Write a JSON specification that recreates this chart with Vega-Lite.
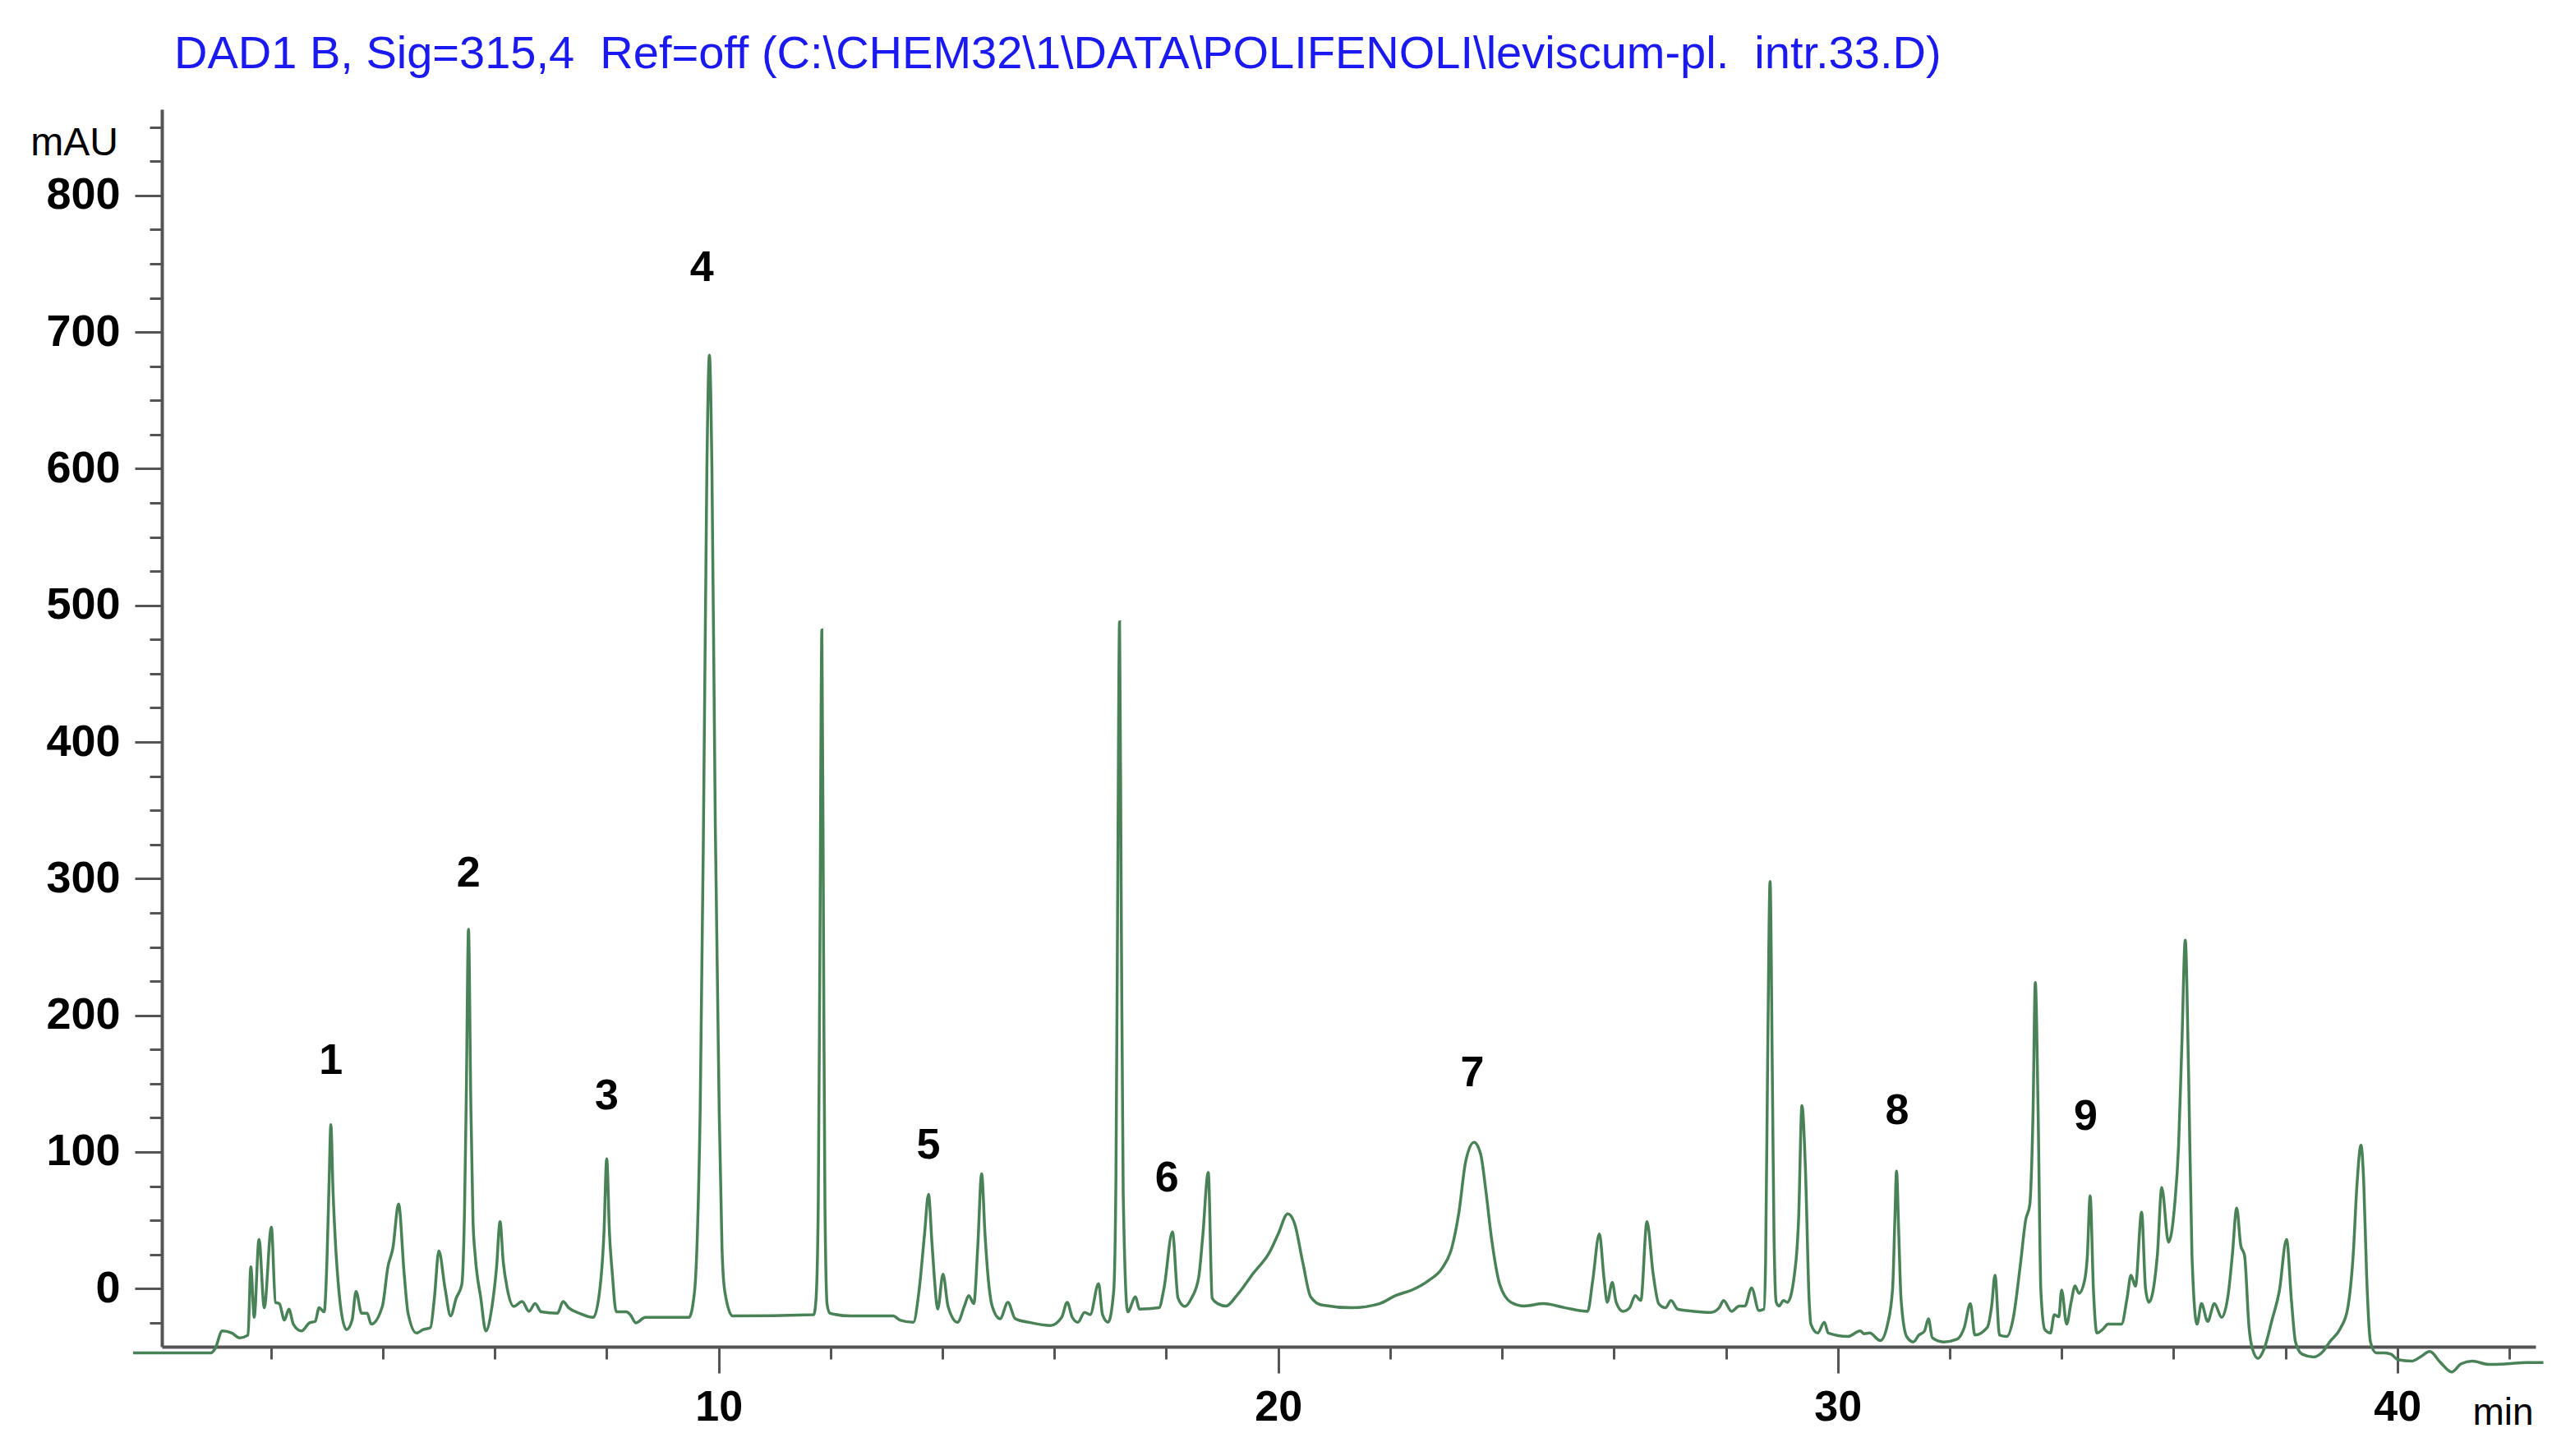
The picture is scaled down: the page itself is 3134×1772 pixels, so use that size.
{
  "$schema": "https://vega.github.io/schema/vega-lite/v6.json",
  "autosize": "none",
  "width": 2889,
  "height": 1506,
  "padding": {"left": 197, "top": 133, "right": 48, "bottom": 133},
  "background": "white",
  "title": {
    "text": "DAD1 B, Sig=315,4\u00a0 Ref=off (C:\\CHEM32\\1\\DATA\\POLIFENOLI\\leviscum-pl.\u00a0 intr.33.D)",
    "anchor": "start", "frame": "group", "orient": "top",
    "fontSize": 56, "font": "Liberation Sans", "fontWeight": "normal",
    "color": "#1a1af0", "baseline": "alphabetic", "offset": 46, "dx": 15, "dy": 52
  },
  "config": {"view": {"stroke": null}, "font": "Liberation Sans"},
  "datasets": {
    "trace": [
      {"t":-0.465,"v":-47},{"t":0.93,"v":-47},{"t":1.0,"v":-44},{"t":1.13,"v":-31},{"t":1.30,"v":-32.5},{"t":1.44,"v":-36},{"t":1.59,"v":-34},{"t":1.64,"v":16},{"t":1.70,"v":-21},{"t":1.786,"v":36},{"t":1.88,"v":-14},{"t":2.007,"v":45},{"t":2.08,"v":-10},{"t":2.15,"v":-11},{"t":2.24,"v":-23},{"t":2.32,"v":-15},{"t":2.40,"v":-26},{"t":2.545,"v":-31},{"t":2.69,"v":-25},{"t":2.79,"v":-24},{"t":2.86,"v":-14},{"t":2.95,"v":-17},{"t":3.00,"v":20},{"t":3.04,"v":80},{"t":3.07,"v":120},{"t":3.11,"v":70},{"t":3.15,"v":35},{"t":3.20,"v":5},{"t":3.25,"v":-15},{"t":3.35,"v":-30},{"t":3.45,"v":-23},{"t":3.52,"v":-2},{"t":3.62,"v":-18},{"t":3.72,"v":-18},{"t":3.79,"v":-26},{"t":3.99,"v":-13},{"t":4.09,"v":16},{"t":4.18,"v":30},{"t":4.28,"v":62},{"t":4.38,"v":11},{"t":4.45,"v":-18},{"t":4.60,"v":-32.5},{"t":4.72,"v":-30},{"t":4.85,"v":-28.5},{"t":4.92,"v":-7},{"t":5.00,"v":27.5},{"t":5.11,"v":0.5},{"t":5.21,"v":-20},{"t":5.31,"v":-7},{"t":5.41,"v":3},{"t":5.46,"v":60},{"t":5.49,"v":140},{"t":5.53,"v":263},{"t":5.57,"v":140},{"t":5.61,"v":50},{"t":5.65,"v":24},{"t":5.75,"v":-7},{"t":5.84,"v":-31},{"t":5.95,"v":-13},{"t":6.03,"v":15},{"t":6.094,"v":49},{"t":6.15,"v":20},{"t":6.22,"v":0.5},{"t":6.34,"v":-13},{"t":6.49,"v":-9.5},{"t":6.61,"v":-16.6},{"t":6.72,"v":-11},{"t":6.83,"v":-17},{"t":7.12,"v":-18},{"t":7.22,"v":-9.5},{"t":7.32,"v":-14},{"t":7.51,"v":-18},{"t":7.76,"v":-21},{"t":7.88,"v":0.5},{"t":7.95,"v":40},{"t":8.00,"v":95},{"t":8.05,"v":40},{"t":8.10,"v":11},{"t":8.17,"v":-17},{"t":8.35,"v":-17},{"t":8.42,"v":-19},{"t":8.52,"v":-25},{"t":8.69,"v":-21},{"t":9.47,"v":-21},{"t":9.57,"v":-2},{"t":9.62,"v":40},{"t":9.67,"v":130},{"t":9.73,"v":341},{"t":9.79,"v":600},{"t":9.835,"v":683},{"t":9.88,"v":600},{"t":9.94,"v":341},{"t":10.01,"v":130},{"t":10.06,"v":30},{"t":10.11,"v":-2},{"t":10.25,"v":-20},{"t":11.70,"v":-19},{"t":11.74,"v":-8},{"t":11.78,"v":60},{"t":11.81,"v":250},{"t":11.845,"v":482},{"t":11.875,"v":250},{"t":11.90,"v":60},{"t":11.94,"v":-12},{"t":11.99,"v":-18},{"t":12.36,"v":-20},{"t":13.12,"v":-20},{"t":13.24,"v":-23},{"t":13.48,"v":-24.6},{"t":13.58,"v":-2},{"t":13.68,"v":40},{"t":13.75,"v":69},{"t":13.81,"v":35},{"t":13.85,"v":11},{"t":13.915,"v":-15},{"t":14.01,"v":10.6},{"t":14.10,"v":-13},{"t":14.27,"v":-24.6},{"t":14.39,"v":-13},{"t":14.47,"v":-5},{"t":14.56,"v":-11},{"t":14.63,"v":30},{"t":14.70,"v":84},{"t":14.76,"v":40},{"t":14.81,"v":11},{"t":14.89,"v":-13},{"t":15.03,"v":-22},{"t":15.17,"v":-10},{"t":15.30,"v":-22},{"t":15.59,"v":-25},{"t":15.93,"v":-27},{"t":16.13,"v":-21},{"t":16.23,"v":-10},{"t":16.32,"v":-21},{"t":16.42,"v":-24.6},{"t":16.54,"v":-17.4},{"t":16.64,"v":-19},{"t":16.79,"v":3.7},{"t":16.86,"v":-19},{"t":16.96,"v":-24.6},{"t":17.06,"v":-2},{"t":17.10,"v":80},{"t":17.13,"v":280},{"t":17.165,"v":488},{"t":17.195,"v":280},{"t":17.23,"v":70},{"t":17.31,"v":-17},{"t":17.45,"v":-6},{"t":17.52,"v":-15},{"t":17.87,"v":-14},{"t":17.96,"v":0.5},{"t":18.11,"v":41.5},{"t":18.21,"v":-7},{"t":18.33,"v":-13},{"t":18.45,"v":-7},{"t":18.58,"v":8.5},{"t":18.65,"v":37.5},{"t":18.75,"v":85},{"t":18.82,"v":-7},{"t":18.92,"v":-11},{"t":19.07,"v":-12.7},{"t":19.26,"v":-5},{"t":19.55,"v":11},{"t":19.85,"v":27},{"t":20.0,"v":40},{"t":20.17,"v":54.7},{"t":20.29,"v":48},{"t":20.44,"v":19},{"t":20.58,"v":-6},{"t":20.78,"v":-12},{"t":21.32,"v":-14},{"t":21.81,"v":-11},{"t":22.10,"v":-5},{"t":22.39,"v":-1},{"t":22.69,"v":6},{"t":22.93,"v":15},{"t":23.10,"v":29.6},{"t":23.23,"v":56},{"t":23.35,"v":93},{"t":23.50,"v":107},{"t":23.62,"v":98},{"t":23.71,"v":72},{"t":23.81,"v":37.5},{"t":23.96,"v":3},{"t":24.16,"v":-10},{"t":24.40,"v":-12.7},{"t":24.74,"v":-11},{"t":25.13,"v":-14},{"t":25.53,"v":-16.6},{"t":25.62,"v":5.8},{"t":25.74,"v":40},{"t":25.82,"v":8.5},{"t":25.88,"v":-10},{"t":25.97,"v":4.5},{"t":26.04,"v":-10},{"t":26.16,"v":-16.6},{"t":26.28,"v":-14},{"t":26.38,"v":-5},{"t":26.48,"v":-8.7},{"t":26.59,"v":49},{"t":26.70,"v":11},{"t":26.80,"v":-11},{"t":26.92,"v":-14},{"t":27.02,"v":-8.7},{"t":27.14,"v":-15},{"t":27.43,"v":-16.6},{"t":27.73,"v":-17.4},{"t":27.88,"v":-14},{"t":27.96,"v":-8.7},{"t":28.10,"v":-16.6},{"t":28.24,"v":-12.7},{"t":28.34,"v":-12.7},{"t":28.46,"v":0.5},{"t":28.59,"v":-16},{"t":28.68,"v":-15},{"t":28.71,"v":20},{"t":28.75,"v":180},{"t":28.79,"v":298},{"t":28.83,"v":160},{"t":28.86,"v":40},{"t":28.90,"v":-10},{"t":28.95,"v":-12.7},{"t":29.03,"v":-8.7},{"t":29.10,"v":-10},{"t":29.25,"v":19},{"t":29.30,"v":51},{"t":29.36,"v":134},{"t":29.42,"v":90},{"t":29.49,"v":-10},{"t":29.52,"v":-26},{"t":29.64,"v":-32.5},{"t":29.76,"v":-24.6},{"t":29.83,"v":-32.5},{"t":30.18,"v":-35},{"t":30.40,"v":-31},{"t":30.47,"v":-33},{"t":30.57,"v":-32.5},{"t":30.76,"v":-38},{"t":30.89,"v":-26},{"t":30.98,"v":0},{"t":31.02,"v":50},{"t":31.05,"v":86},{"t":31.09,"v":40},{"t":31.13,"v":-7},{"t":31.23,"v":-35},{"t":31.35,"v":-39},{"t":31.45,"v":-34},{"t":31.55,"v":-31},{"t":31.62,"v":-22},{"t":31.69,"v":-36},{"t":31.89,"v":-39},{"t":32.13,"v":-37},{"t":32.26,"v":-28.5},{"t":32.37,"v":-11},{"t":32.45,"v":-34},{"t":32.67,"v":-28.5},{"t":32.75,"v":-12.7},{"t":32.81,"v":9.8},{"t":32.89,"v":-34},{"t":33.02,"v":-35},{"t":33.14,"v":-20.6},{"t":33.26,"v":16.4},{"t":33.36,"v":50.7},{"t":33.43,"v":61},{"t":33.49,"v":130},{"t":33.53,"v":224},{"t":33.58,"v":130},{"t":33.63,"v":-2},{"t":33.70,"v":-30},{"t":33.80,"v":-32.5},{"t":33.87,"v":-19},{"t":33.95,"v":-20.6},{"t":34.00,"v":-1},{"t":34.09,"v":-26},{"t":34.17,"v":-10},{"t":34.24,"v":2},{"t":34.31,"v":-3.4},{"t":34.41,"v":5.8},{"t":34.46,"v":24},{"t":34.51,"v":68},{"t":34.57,"v":-2},{"t":34.63,"v":-32.5},{"t":34.73,"v":-30},{"t":34.83,"v":-26},{"t":35.07,"v":-26},{"t":35.17,"v":-7},{"t":35.24,"v":9.8},{"t":35.32,"v":1.8},{"t":35.43,"v":56},{"t":35.50,"v":0},{"t":35.56,"v":-10},{"t":35.71,"v":24},{"t":35.79,"v":74},{"t":35.91,"v":34},{"t":36.02,"v":61},{"t":36.09,"v":104},{"t":36.15,"v":180},{"t":36.21,"v":255},{"t":36.27,"v":156},{"t":36.33,"v":24},{"t":36.42,"v":-26},{"t":36.50,"v":-11},{"t":36.61,"v":-24},{"t":36.73,"v":-11},{"t":36.86,"v":-21},{"t":36.98,"v":-3.4},{"t":37.05,"v":24},{"t":37.13,"v":59},{"t":37.20,"v":32},{"t":37.27,"v":24},{"t":37.35,"v":-28.5},{"t":37.41,"v":-44},{"t":37.51,"v":-51},{"t":37.62,"v":-44},{"t":37.76,"v":-23},{"t":37.89,"v":-2},{"t":38.02,"v":36},{"t":38.11,"v":-10},{"t":38.18,"v":-39},{"t":38.30,"v":-48},{"t":38.50,"v":-50},{"t":38.67,"v":-46},{"t":38.79,"v":-39},{"t":38.99,"v":-28.5},{"t":39.11,"v":-15},{"t":39.21,"v":24},{"t":39.28,"v":77},{"t":39.35,"v":105},{"t":39.40,"v":77},{"t":39.45,"v":11},{"t":39.52,"v":-39},{"t":39.62,"v":-47},{"t":39.77,"v":-47},{"t":39.89,"v":-48},{"t":40.01,"v":-52},{"t":40.26,"v":-53},{"t":40.41,"v":-50},{"t":40.58,"v":-46},{"t":40.77,"v":-54},{"t":40.97,"v":-61},{"t":41.14,"v":-55},{"t":41.34,"v":-53},{"t":41.63,"v":-55.5},{"t":41.97,"v":-55},{"t":42.31,"v":-54},{"t":42.61,"v":-54}
    ],
    "labels": [
      {"t":3.07,"v":167,"label":"1"},
      {"t":5.53,"v":304,"label":"2"},
      {"t":8.0,"v":141,"label":"3"},
      {"t":9.7,"v":747,"label":"4"},
      {"t":13.75,"v":105,"label":"5"},
      {"t":18.01,"v":81,"label":"6"},
      {"t":23.47,"v":158,"label":"7"},
      {"t":31.06,"v":130,"label":"8"},
      {"t":34.43,"v":126,"label":"9"}
    ]
  },
  "layer": [
    {
      "data": {"name": "trace"},
      "mark": {"type": "line", "color": "#4a8257", "strokeWidth": 3.5, "interpolate": "monotone", "clip": false},
      "encoding": {
        "x": {
          "field": "t", "type": "quantitative",
          "scale": {"domain": [0.05, 42.47], "nice": false, "zero": false},
          "axis": {
            "orient": "bottom", "values": [10, 20, 30, 40], "grid": false,
            "tickSize": 32, "tickWidth": 3, "tickColor": "#555555",
            "domainColor": "#555555", "domainWidth": 4,
            "labelFontSize": 52, "labelFont": "Liberation Sans", "labelFontWeight": "bold",
            "labelColor": "black", "labelBaseline": "alphabetic", "labelPadding": 57,
            "labelFlush": false, "labelOverlap": false,
            "title": "min", "titleFontSize": 46, "titleFontWeight": "normal", "titleFont": "Liberation Sans",
            "titleColor": "black", "titleX": 2849, "titleY": 94, "titleAlign": "center", "titleBaseline": "alphabetic"
          }
        },
        "y": {
          "field": "v", "type": "quantitative",
          "scale": {"domain": [-42.5, 863], "nice": false, "zero": false},
          "axis": {
            "orient": "left", "values": [0, 100, 200, 300, 400, 500, 600, 700, 800], "grid": false,
            "tickSize": 33, "tickWidth": 3, "tickColor": "#555555",
            "domainColor": "#555555", "domainWidth": 4,
            "labelFontSize": 54, "labelFontWeight": "bold", "labelColor": "black", "labelPadding": 18,
            "labelFlush": false, "labelOverlap": false,
            "title": "mAU", "titleAngle": 0, "titleX": -107, "titleY": 41, "titleAlign": "center",
            "titleBaseline": "middle", "titleFontSize": 48, "titleFontWeight": "normal", "titleColor": "black"
          }
        }
      }
    },
    {
      "data": {"name": "labels"},
      "mark": {"type": "text", "fontSize": 52, "fontWeight": "bold", "font": "Liberation Sans", "color": "black", "baseline": "middle", "align": "center"},
      "encoding": {
        "x": {
          "field": "t", "type": "quantitative",
          "axis": {"orient": "bottom", "values": [2, 4, 6, 8, 12, 14, 16, 18, 22, 24, 26, 28, 32, 34, 36, 38, 42],
                   "tickSize": 15, "tickWidth": 3, "tickColor": "#555555", "labels": false, "domain": false, "grid": false, "title": null}
        },
        "y": {
          "field": "v", "type": "quantitative",
          "axis": {"orient": "left", "values": [-25, 25, 50, 75, 125, 150, 175, 225, 250, 275, 325, 350, 375, 425, 450, 475, 525, 550, 575, 625, 650, 675, 725, 750, 775, 825, 850],
                   "tickSize": 15, "tickWidth": 3, "tickColor": "#555555", "labels": false, "domain": false, "grid": false, "title": null}
        },
        "text": {"field": "label"}
      }
    }
  ],
  "resolve": {"axis": {"x": "independent", "y": "independent"}}
}
